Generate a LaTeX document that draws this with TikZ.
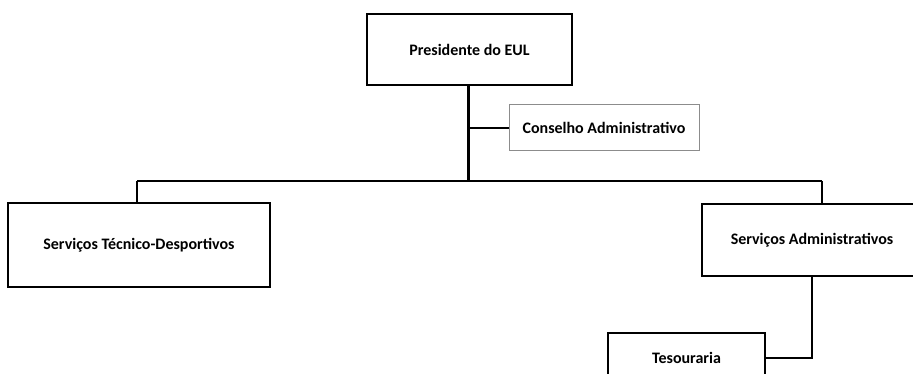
\documentclass[tikz,border=0pt]{standalone}
\usepackage{fontspec}
\setmainfont{Carlito}
\usetikzlibrary{positioning}

\begin{document}
\begin{tikzpicture}[x=1pt,y=-1pt,
   unit/.style={draw, line width=1.4pt, inner sep=0pt, font=\fontsize{16}{19}\selectfont\bfseries},
   council/.style={unit, draw=black!45, line width=1pt},
   link/.style={line width=1.4pt}]
   \useasboundingbox (0,0) rectangle (913,374);
   \clip (0,0) rectangle (913,374);
   \node[unit, minimum width=205pt, minimum height=71pt] (pres) at (469.5,49.5) {Presidente do EUL};
   \node[council, minimum width=190pt, minimum height=46pt] (cons) at (604,128) {Conselho Administrativo};
   \node[unit, minimum width=262pt, minimum height=84pt] (std) at (139,245) {Serviços Técnico-Desportivos};
   \node[unit, minimum width=220pt, minimum height=72pt] (sa) at (812,240) {Serviços Administrativos};
   \node[unit, minimum width=157pt, minimum height=50pt] (tes) at (686.5,358) {Tesouraria};
   \coordinate (bus) at (468,181);
   \coordinate (busl) at (137,181);
   \coordinate (busr) at (822,181);
   \draw[line width=3pt] (468,85) -- (bus);
   \draw[link] (cons.west) -- (468,128);
   \draw[link] (busl) -- (busr);
   \draw[link] (busl) -- (std.north -| busl);
   \draw[link] (busr) -- (sa.north -| busr);
   \draw[link] (sa.south) |- (tes.east);
\end{tikzpicture}
\end{document}
